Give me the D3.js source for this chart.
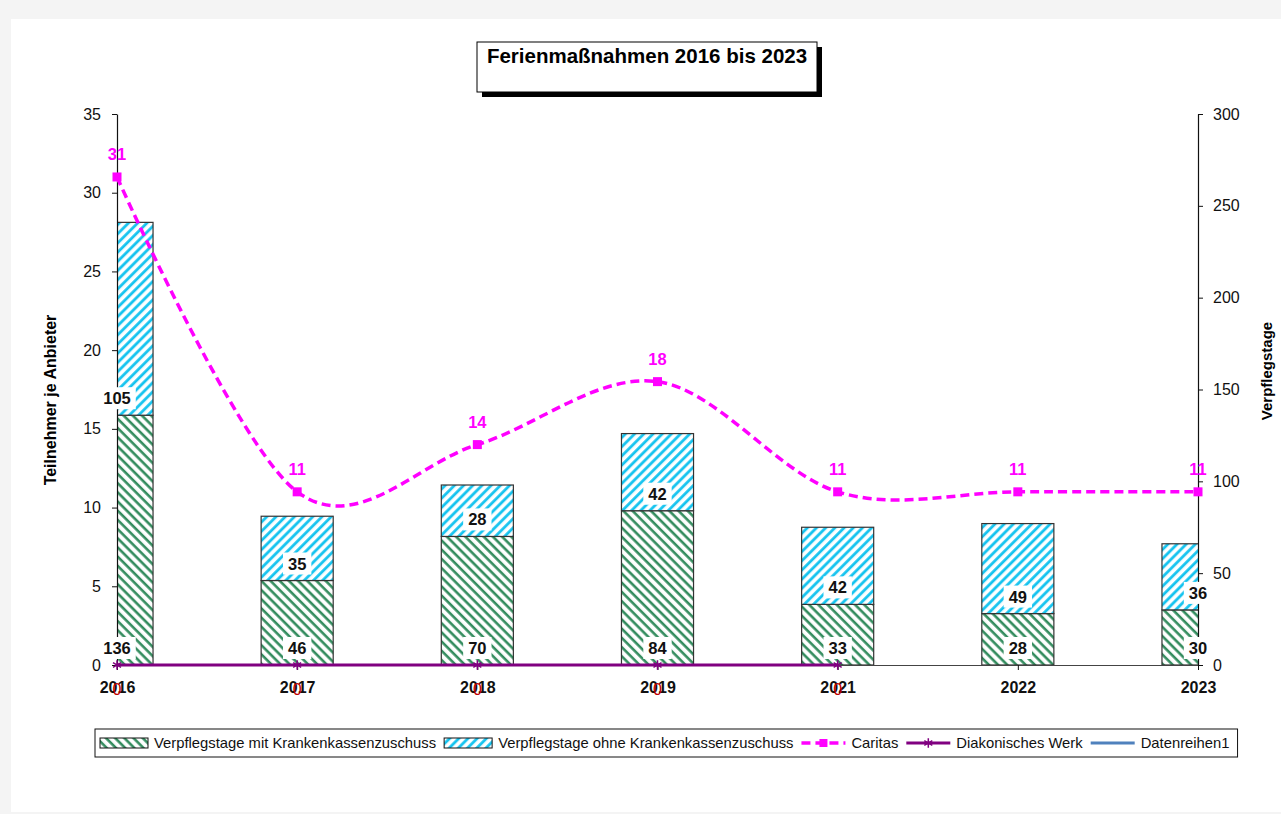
<!DOCTYPE html>
<html>
<head>
<meta charset="utf-8">
<script src="https://cdn.jsdelivr.net/npm/d3@7"></script>
<style>
  body { margin: 0; background: #f4f4f4; }
  svg { display: block; font-family: "Liberation Sans", Arial, sans-serif; }
</style>
</head>
<body>
<svg id="chart"></svg>
<script>
const years = ["2016", "2017", "2018", "2019", "2021", "2022", "2023"];
const mitZuschuss = [136, 46, 70, 84, 33, 28, 30];
const ohneZuschuss = [105, 35, 28, 42, 42, 49, 36];
const caritas = [31, 11, 14, 18, 11, 11, 11];
const diakonie = [0, 0, 0, 0, 0, null, null];
const leftTicks = [0, 5, 10, 15, 20, 25, 30, 35];
const rightTicks = [0, 50, 100, 150, 200, 250, 300];

const width = 1281;
const height = 814;
const margin = { top: 114, right: 83, bottom: 149, left: 117 };

const svg = d3.select("#chart").attr("width", width).attr("height", height);

svg.append("rect")
  .attr("x", 11).attr("y", 19)
  .attr("width", width - 11).attr("height", 793)
  .attr("fill", "#fff");

const defs = svg.append("defs");
const hatch = (id, color, angle, sw) => {
  const p = defs.append("pattern")
    .attr("id", id)
    .attr("patternUnits", "userSpaceOnUse")
    .attr("width", 6.5).attr("height", 6.5)
    .attr("patternTransform", `rotate(${angle})`);
  p.append("rect").attr("width", 6.5).attr("height", 6.5).attr("fill", "#fff");
  p.append("line")
    .attr("x1", 1.6).attr("x2", 1.6).attr("y1", 0).attr("y2", 6.5)
    .attr("stroke", color).attr("stroke-width", sw);
};
hatch("hGreen", "#338c5e", -45, 2.6);
hatch("hBlue", "#14c3ef", 45, 2.8);

defs.append("clipPath").attr("id", "plotClip")
  .append("rect")
  .attr("x", margin.left).attr("y", margin.top)
  .attr("width", width - margin.left - margin.right)
  .attr("height", height - margin.top - margin.bottom);

const x = d3.scalePoint()
  .domain(years)
  .range([margin.left, width - margin.right]);

const yL = d3.scaleLinear().domain([0, 35]).range([height - margin.bottom, margin.top]);
const yR = d3.scaleLinear().domain([0, 300]).range([height - margin.bottom, margin.top]);

const barW = x.step() * 0.4;

const table = years.map((y, i) => ({ year: y, mit: mitZuschuss[i], ohne: ohneZuschuss[i] }));
const stacked = d3.stack().keys(["mit", "ohne"])(table);
const fills = { mit: "url(#hGreen)", ohne: "url(#hBlue)" };

// bars
const barsG = svg.append("g").attr("clip-path", "url(#plotClip)");
barsG.selectAll("g")
  .data(stacked)
  .join("g")
  .attr("fill", (d) => fills[d.key])
  .selectAll("rect")
  .data((d) => d)
  .join("rect")
  .attr("x", (d) => x(d.data.year) - barW / 2)
  .attr("y", (d) => yR(d[1]))
  .attr("width", barW)
  .attr("height", (d) => yR(d[0]) - yR(d[1]))
  .attr("stroke", "#333")
  .attr("stroke-width", 1.2);

// axes
const axisStyle = (g, size, weight) => {
  g.selectAll("text")
    .attr("font-size", size)
    .attr("font-weight", weight)
    .attr("fill", "#111")
    .attr("font-family", "'Liberation Sans', Arial, sans-serif");
  g.selectAll("line").attr("stroke", "#111");
  g.select(".domain").attr("stroke", "#111").attr("stroke-width", 1.2);
};

svg.append("g")
  .attr("transform", `translate(0,${height - margin.bottom})`)
  .call(d3.axisBottom(x).tickSize(5).tickPadding(12).tickSizeOuter(0))
  .call((g) => axisStyle(g, 16, "bold"))
  .call((g) => g.select(".domain").attr("stroke", "#444"));

svg.append("g")
  .attr("transform", `translate(${margin.left},0)`)
  .call(d3.axisLeft(yL).tickValues(leftTicks).tickSize(5).tickPadding(11).tickSizeOuter(0))
  .call((g) => axisStyle(g, 16, "normal"));

svg.append("g")
  .attr("transform", `translate(${width - margin.right},0)`)
  .call(d3.axisRight(yR).tickValues(rightTicks).tickSize(5).tickPadding(10).tickSizeOuter(0))
  .call((g) => axisStyle(g, 16, "normal"));

// Diakonisches Werk
const diakPts = years.map((y, i) => ({ year: y, v: diakonie[i] })).filter((d) => d.v !== null);
svg.append("path")
  .datum(diakPts)
  .attr("fill", "none")
  .attr("stroke", "#800080")
  .attr("stroke-width", 3)
  .attr("d", d3.line().x((d) => x(d.year)).y((d) => yL(d.v)));

const star = d3.symbol().type(d3.symbolAsterisk).size(60);
svg.append("g").selectAll("path")
  .data(diakPts)
  .join("path")
  .attr("transform", (d) => `translate(${x(d.year)},${yL(d.v)})`)
  .attr("d", star)
  .attr("stroke", "#800080")
  .attr("stroke-width", 1.5)
  .attr("fill", "none");

svg.append("g").selectAll("text")
  .data(diakPts)
  .join("text")
  .attr("x", (d) => x(d.year))
  .attr("y", (d) => yL(d.v) + 30)
  .attr("text-anchor", "middle")
  .attr("font-size", 16)
  .attr("fill", "#c00000")
  .text((d) => d.v);

// Caritas
const carPts = years.map((y, i) => ({ year: y, v: caritas[i] }));
svg.append("path")
  .datum(carPts)
  .attr("fill", "none")
  .attr("stroke", "#ff00ff")
  .attr("stroke-width", 3.5)
  .attr("stroke-dasharray", "9,5")
  .attr("d", d3.line().curve(d3.curveCatmullRom.alpha(0)).x((d) => x(d.year)).y((d) => yL(d.v)));

svg.append("g").selectAll("rect")
  .data(carPts)
  .join("rect")
  .attr("x", (d) => x(d.year) - 4.5)
  .attr("y", (d) => yL(d.v) - 4.5)
  .attr("width", 9).attr("height", 9)
  .attr("fill", "#ff00ff");

svg.append("g").selectAll("text")
  .data(carPts)
  .join("text")
  .attr("x", (d) => x(d.year))
  .attr("y", (d) => yL(d.v) - 17)
  .attr("text-anchor", "middle")
  .attr("font-size", 16.5)
  .attr("font-weight", "bold")
  .attr("fill", "#ff00ff")
  .text((d) => d.v);

// bar labels (inside base, white box)
const labG = svg.append("g");
stacked.forEach((s) => {
  s.forEach((d) => {
    const cx = x(d.data.year);
    const cy = yR(d[0]) - 17;
    const g = labG.append("g");
    const t = g.append("text")
      .attr("x", cx).attr("y", cy + 6)
      .attr("text-anchor", "middle")
      .attr("font-size", 16.5)
      .attr("font-weight", "bold")
      .attr("fill", "#111")
      .text(d[1] - d[0]);
    const w = t.node().getComputedTextLength();
    g.insert("rect", "text")
      .attr("x", cx - w / 2 - 5).attr("y", cy - 11)
      .attr("width", w + 10).attr("height", 22)
      .attr("fill", "#fff");
  });
});

// title
const tb = { x: 477, y: 42, w: 340, h: 50 };
svg.append("rect")
  .attr("x", tb.x + 5).attr("y", tb.y + 5)
  .attr("width", tb.w).attr("height", tb.h)
  .attr("fill", "#000");
svg.append("rect")
  .attr("x", tb.x).attr("y", tb.y)
  .attr("width", tb.w).attr("height", tb.h)
  .attr("fill", "#fff").attr("stroke", "#000").attr("stroke-width", 1);
svg.append("text")
  .attr("x", tb.x + tb.w / 2).attr("y", tb.y + 21)
  .attr("text-anchor", "middle")
  .attr("font-size", 20.5)
  .attr("font-weight", "bold")
  .text("Ferienmaßnahmen 2016 bis 2023");

// axis titles
svg.append("text")
  .attr("transform", "translate(56,400) rotate(-90)")
  .attr("text-anchor", "middle")
  .attr("font-size", 16)
  .attr("font-weight", "bold")
  .text("Teilnehmer je Anbieter");
svg.append("text")
  .attr("transform", "translate(1272,371) rotate(-90)")
  .attr("text-anchor", "middle")
  .attr("font-size", 15)
  .attr("font-weight", "bold")
  .text("Verpflegstage");

// legend
const legendItems = [
  { label: "Verpflegstage mit Krankenkassenzuschuss", type: "bar", fill: "url(#hGreen)" },
  { label: "Verpflegstage ohne Krankenkassenzuschuss", type: "bar", fill: "url(#hBlue)" },
  { label: "Caritas", type: "dash" },
  { label: "Diakonisches Werk", type: "star" },
  { label: "Datenreihen1", type: "plain" }
];
const legend = svg.append("g");
const ly = 743;
let lx = 100;
legendItems.forEach((it) => {
  const sw = it.type === "bar" ? 48 : 44;
  if (it.type === "bar") {
    legend.append("rect")
      .attr("x", lx).attr("y", ly - 5)
      .attr("width", sw).attr("height", 10)
      .attr("fill", it.fill).attr("stroke", "#111").attr("stroke-width", 1);
  } else if (it.type === "dash") {
    legend.append("line")
      .attr("x1", lx).attr("x2", lx + sw).attr("y1", ly).attr("y2", ly)
      .attr("stroke", "#ff00ff").attr("stroke-width", 3.5).attr("stroke-dasharray", "9,5");
    legend.append("rect")
      .attr("x", lx + sw / 2 - 4).attr("y", ly - 4)
      .attr("width", 8).attr("height", 8).attr("fill", "#ff00ff");
  } else if (it.type === "star") {
    legend.append("line")
      .attr("x1", lx).attr("x2", lx + sw).attr("y1", ly).attr("y2", ly)
      .attr("stroke", "#800080").attr("stroke-width", 3);
    legend.append("path")
      .attr("transform", `translate(${lx + sw / 2},${ly})`)
      .attr("d", star).attr("stroke", "#800080").attr("stroke-width", 1.5).attr("fill", "none");
  } else {
    legend.append("line")
      .attr("x1", lx).attr("x2", lx + sw).attr("y1", ly).attr("y2", ly)
      .attr("stroke", "#4f81bd").attr("stroke-width", 3);
  }
  const t = legend.append("text")
    .attr("x", lx + sw + 6).attr("y", ly + 5)
    .attr("font-size", 14.8)
    .attr("fill", "#111")
    .text(it.label);
  lx += sw + 6 + t.node().getComputedTextLength() + 8;
});
legend.insert("rect", ":first-child")
  .attr("x", 95).attr("y", 729)
  .attr("width", lx - 95).attr("height", 28)
  .attr("fill", "#fff").attr("stroke", "#111").attr("stroke-width", 1);
</script>
</body>
</html>
